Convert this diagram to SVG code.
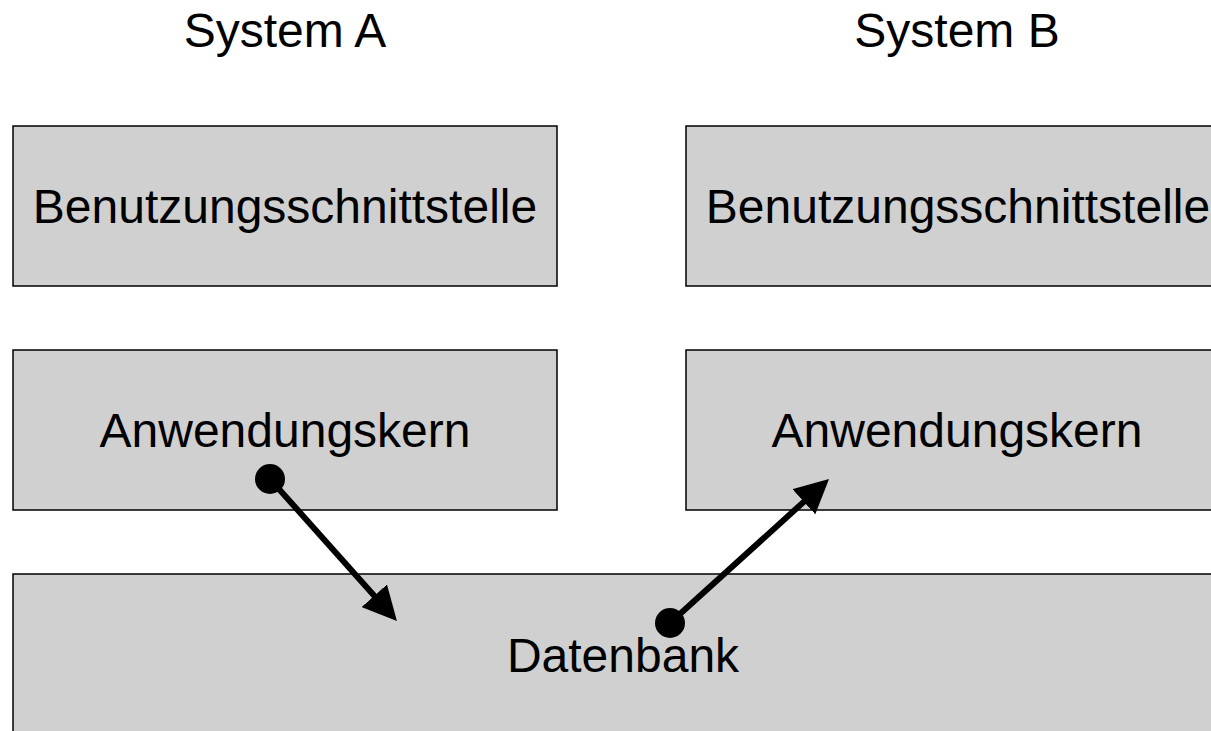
<svg xmlns="http://www.w3.org/2000/svg" width="1211" height="731" viewBox="0 0 1211 731">
<style>
.box{fill:#d0d0d0;stroke:#000;stroke-width:1.5}
.t{font-family:"Liberation Sans",Arial,sans-serif;font-size:48px;fill:#000;text-anchor:middle}
.c{stroke:#000;stroke-width:6;fill:none}
.dot{fill:#000}
</style>
<defs>
<marker id="ah" markerUnits="userSpaceOnUse" viewBox="0 0 34 34" markerWidth="34" markerHeight="34" refX="14" refY="17" orient="auto">
<path d="M0,0 L34,17 L0,34 z" fill="#000"/>
</marker>
</defs>
<rect width="1211" height="731" fill="#fff"/>
<text class="t" x="285" y="47">System A</text>
<text class="t" x="957" y="47">System B</text>
<g id="uiA"><rect class="box" x="13" y="126" width="544" height="160"/><text class="t" x="285" y="223">Benutzungsschnittstelle</text></g>
<g id="uiB"><rect class="box" x="686" y="126" width="544" height="160"/><text class="t" x="958" y="223">Benutzungsschnittstelle</text></g>
<g id="kernA"><rect class="box" x="13" y="350" width="544" height="160"/><text class="t" x="285" y="447">Anwendungskern</text></g>
<g id="kernB"><rect class="box" x="686" y="350" width="544" height="160"/><text class="t" x="957" y="447">Anwendungskern</text></g>
<g id="db"><rect class="box" x="13" y="574" width="1220" height="180"/><text class="t" x="623" y="672">Datenbank</text></g>
<g id="connectors">
<line class="c" x1="270" y1="479" x2="383.6" y2="606.2" marker-end="url(#ah)"/>
<circle class="dot" cx="270" cy="479" r="15"/>
<line class="c" x1="670" y1="623" x2="814.2" y2="492.4" marker-end="url(#ah)"/>
<circle class="dot" cx="670" cy="623" r="15"/>
</g>
</svg>
